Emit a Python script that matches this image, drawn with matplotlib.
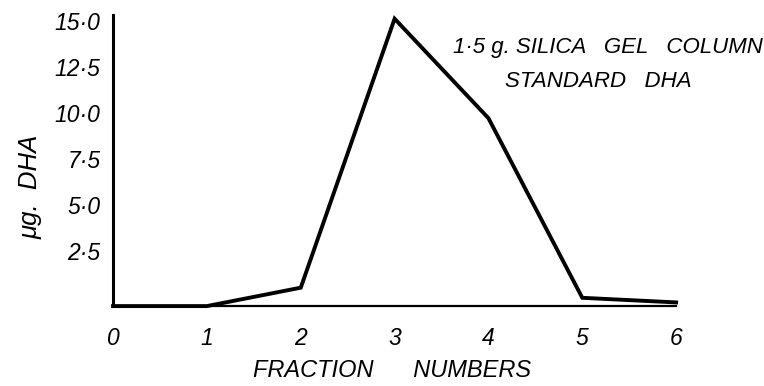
import matplotlib
matplotlib.use("Agg")
import matplotlib.pyplot as plt
from matplotlib.ticker import FixedLocator, FixedFormatter

# Elution profile of standard DHA from a silica gel column
fractions = [0, 1, 2, 3, 4, 5, 6]
dha_ug = [0.0, 0.0, 1.0, 15.6, 10.2, 0.45, 0.2]

y_ticks = [2.5, 5.0, 7.5, 10.0, 12.5, 15.0]
y_tick_labels = ["2·5", "5·0", "7·5", "10·0", "12·5", "15·0"]
x_ticks = [0, 1, 2, 3, 4, 5, 6]
x_tick_labels = ["0", "1", "2", "3", "4", "5", "6"]

plt.rcParams["font.family"] = ["Liberation Sans", "DejaVu Sans"]
plt.rcParams["font.style"] = "italic"

fig = plt.figure(figsize=(7.64, 3.86), dpi=100)
ax = fig.add_axes([0.148, 0.207, 0.737, 0.754])

ax.plot(fractions, dha_ug, color="black", lw=2.8, solid_joinstyle="miter",
        clip_on=False, zorder=3)

ax.set_xlim(0, 6)
ax.set_ylim(0, 15.8)

for side in ("top", "right"):
    ax.spines[side].set_visible(False)
ax.spines["left"].set_linewidth(2.2)
ax.spines["bottom"].set_linewidth(1.6)

ax.yaxis.set_major_locator(FixedLocator(y_ticks))
ax.yaxis.set_major_formatter(FixedFormatter(y_tick_labels))
ax.xaxis.set_major_locator(FixedLocator(x_ticks))
ax.xaxis.set_major_formatter(FixedFormatter(x_tick_labels))
ax.tick_params(axis="both", length=0, labelsize=16.5)
ax.tick_params(axis="y", pad=9)
ax.tick_params(axis="x", pad=15)
for lbl in ax.get_yticklabels():
    lbl.set_verticalalignment("baseline")

ax.set_xlabel("FRACTION      NUMBERS", fontsize=17, va="center")
ax.xaxis.set_label_coords(0.495, -0.22)
ax.set_ylabel("μg.  DHA", fontsize=18.5, va="center")
ax.yaxis.set_label_coords(-0.147, 0.41)

ax.text(0.879, 0.89, "1·5 g. SILICA   GEL   COLUMN",
        transform=ax.transAxes, ha="center", va="center", fontsize=16)
ax.text(0.862, 0.77, "STANDARD   DHA",
        transform=ax.transAxes, ha="center", va="center", fontsize=16)

fig.savefig("out.png", dpi=100)
